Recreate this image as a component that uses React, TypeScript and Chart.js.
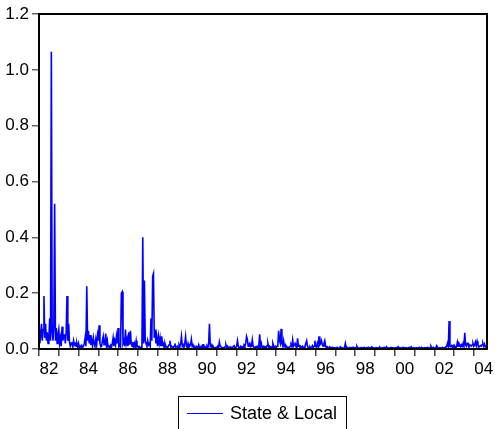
import React, { useEffect, useRef } from 'react';
import { Chart, registerables } from 'chart.js';

Chart.register(...registerables);

const seriesLabel = 'State & Local';
const startYear = 1982;
const periodsPerYear = 24;

// Semi-monthly values, Jan 1982 .. Aug 2004
const stateLocal: number[] = [
  // 1982
  0.07, 0.02, 0.05, 0.09, 0.03, 0.07, 0.19, 0.04, 0.09, 0.03, 0.06, 0.02,
  0.04, 0.11, 0.03, 1.065, 0.06, 0.03, 0.08, 0.52, 0.03, 0.075, 0.02, 0.05,
  // 1983
  0.07, 0.02, 0.04, 0.01, 0.08, 0.03, 0.05, 0.05, 0.02, 0.06, 0.19, 0.03,
  0.09, 0.025, 0.01, 0.02, 0.025, 0.008, 0.03, 0.015, 0.02, 0.01, 0.02, 0.006,
  // 1984
  0.02, 0.005, 0.01, 0.004, 0.012, 0.006, 0.01, 0.02, 0.04, 0.01, 0.225, 0.03,
  0.065, 0.02, 0.05, 0.015, 0.03, 0.01, 0.04, 0.02, 0.01, 0.035, 0.015, 0.05,
  // 1985
  0.03, 0.085, 0.02, 0.008, 0.01, 0.03, 0.045, 0.015, 0.02, 0.055, 0.01, 0.03,
  0.008, 0.01, 0.004, 0.013, 0.006, 0.02, 0.04, 0.01, 0.03, 0.015, 0.045, 0.02,
  // 1986
  0.075, 0.01, 0.015, 0.005, 0.2, 0.205, 0.02, 0.03, 0.01, 0.07, 0.02, 0.035,
  0.01, 0.06, 0.015, 0.065, 0.02, 0.01, 0.025, 0.005, 0.02, 0.01, 0.03, 0.008,
  // 1987
  0.01, 0.004, 0.008, 0.003, 0.006, 0.005, 0.4, 0.02, 0.245, 0.03, 0.02, 0.01,
  0.03, 0.015, 0.02, 0.01, 0.11, 0.03, 0.26, 0.27, 0.04, 0.07, 0.02, 0.04,
  // 1988
  0.01, 0.045, 0.02, 0.04, 0.01, 0.045, 0.015, 0.02, 0.005, 0.02, 0.01, 0.008,
  0.004, 0.01, 0.015, 0.03, 0.008, 0.01, 0.004, 0.006, 0.01, 0.02, 0.005, 0.008,
  // 1989
  0.01, 0.004, 0.015, 0.008, 0.02, 0.045, 0.01, 0.015, 0.005, 0.02, 0.045, 0.01,
  0.006, 0.02, 0.008, 0.01, 0.015, 0.035, 0.01, 0.015, 0.004, 0.006, 0.003, 0.01,
  // 1990
  0.008, 0.003, 0.015, 0.005, 0.005, 0.01, 0.004, 0.015, 0.015, 0.006, 0.008, 0.003,
  0.01, 0.004, 0.02, 0.09, 0.01, 0.015, 0.005, 0.012, 0.004, 0.005, 0.003, 0.006,
  // 1991
  0.005, 0.01, 0.004, 0.025, 0.01, 0.008, 0.004, 0.005, 0.003, 0.006, 0.008, 0.015,
  0.005, 0.01, 0.004, 0.005, 0.008, 0.003, 0.006, 0.004, 0.01, 0.012, 0.004, 0.005,
  // 1992
  0.01, 0.03, 0.01, 0.005, 0.004, 0.01, 0.006, 0.008, 0.004, 0.015, 0.01, 0.02,
  0.045, 0.035, 0.01, 0.015, 0.02, 0.008, 0.01, 0.033, 0.01, 0.006, 0.004, 0.008,
  // 1993
  0.006, 0.01, 0.004, 0.015, 0.053, 0.008, 0.02, 0.005, 0.004, 0.01, 0.006, 0.008,
  0.004, 0.012, 0.02, 0.006, 0.01, 0.004, 0.008, 0.006, 0.02, 0.01, 0.005, 0.01,
  // 1994
  0.005, 0.01, 0.015, 0.065, 0.03, 0.02, 0.072, 0.02, 0.01, 0.03, 0.01, 0.015,
  0.005, 0.008, 0.004, 0.006, 0.005, 0.01, 0.015, 0.008, 0.033, 0.01, 0.015, 0.02,
  // 1995
  0.01, 0.005, 0.038, 0.01, 0.012, 0.005, 0.008, 0.004, 0.01, 0.006, 0.005, 0.01,
  0.02, 0.03, 0.01, 0.005, 0.004, 0.008, 0.004, 0.005, 0.012, 0.006, 0.01, 0.03,
  // 1996
  0.01, 0.005, 0.02, 0.01, 0.045, 0.015, 0.02, 0.03, 0.015, 0.01, 0.02, 0.03,
  0.01, 0.005, 0.008, 0.004, 0.005, 0.008, 0.003, 0.004, 0.006, 0.003, 0.005, 0.004,
  // 1997
  0.004, 0.003, 0.006, 0.004, 0.003, 0.005, 0.008, 0.004, 0.005, 0.003, 0.004, 0.006,
  0.02, 0.005, 0.006, 0.003, 0.003, 0.005, 0.005, 0.004, 0.004, 0.006, 0.006, 0.003,
  // 1998
  0.005, 0.003, 0.01, 0.004, 0.004, 0.003, 0.003, 0.005, 0.005, 0.004, 0.004, 0.006,
  0.003, 0.004, 0.005, 0.003, 0.006, 0.004, 0.004, 0.005, 0.008, 0.003, 0.004, 0.005,
  // 1999
  0.003, 0.004, 0.005, 0.003, 0.004, 0.005, 0.006, 0.003, 0.003, 0.004, 0.004, 0.006,
  0.005, 0.003, 0.008, 0.004, 0.004, 0.003, 0.003, 0.005, 0.005, 0.004, 0.004, 0.003,
  // 2000
  0.004, 0.003, 0.005, 0.004, 0.008, 0.003, 0.004, 0.005, 0.003, 0.004, 0.006, 0.003,
  0.005, 0.004, 0.004, 0.003, 0.003, 0.005, 0.006, 0.004, 0.008, 0.003, 0.004, 0.005,
  // 2001
  0.003, 0.004, 0.005, 0.003, 0.004, 0.005, 0.006, 0.003, 0.004, 0.005, 0.003, 0.004,
  0.005, 0.003, 0.004, 0.005, 0.006, 0.004, 0.005, 0.003, 0.01, 0.004, 0.004, 0.006,
  // 2002
  0.004, 0.003, 0.006, 0.012, 0.005, 0.004, 0.003, 0.005, 0.004, 0.003, 0.006, 0.004,
  0.003, 0.005, 0.008, 0.01, 0.02, 0.008, 0.1, 0.01, 0.008, 0.012, 0.005, 0.012,
  // 2003
  0.006, 0.01, 0.005, 0.008, 0.025, 0.01, 0.02, 0.015, 0.008, 0.015, 0.01, 0.02,
  0.01, 0.058, 0.015, 0.01, 0.02, 0.02, 0.008, 0.015, 0.012, 0.01, 0.015, 0.02,
  // 2004
  0.01, 0.015, 0.025, 0.012, 0.028, 0.015, 0.01, 0.008, 0.012, 0.01, 0.015, 0.02,
  0.01, 0.018, 0.008, 0.012,
];

const yTickValues = [0, 0.2, 0.4, 0.6, 0.8, 1.0, 1.2];
const xTickYears = [
  1982, 1983, 1984, 1985, 1986, 1987, 1988, 1989, 1990, 1991, 1992, 1993,
  1994, 1995, 1996, 1997, 1998, 1999, 2000, 2001, 2002, 2003, 2004,
];

const FONT = "'Liberation Sans', Arial, Helvetica, sans-serif";

const framePlugin = {
  id: 'frame',
  afterDraw(chart: any) {
    const { ctx, chartArea } = chart;
    ctx.save();
    ctx.strokeStyle = '#000';
    ctx.lineWidth = 2;
    ctx.strokeRect(chartArea.left, chartArea.top, chartArea.right - chartArea.left, chartArea.bottom - chartArea.top);
    ctx.restore();
  },
};

const legendPlugin = {
  id: 'evLegend',
  afterDraw(chart: any) {
    const { ctx } = chart;
    ctx.save();
    ctx.strokeStyle = '#000';
    ctx.lineWidth = 1;
    ctx.strokeRect(178.5, 396.5, 168, 40);
    ctx.strokeStyle = '#0000ff';
    ctx.beginPath();
    ctx.moveTo(187, 413.5);
    ctx.lineTo(223, 413.5);
    ctx.stroke();
    ctx.fillStyle = '#000';
    ctx.font = `18px ${FONT}`;
    ctx.textBaseline = 'middle';
    ctx.textAlign = 'left';
    ctx.fillText(seriesLabel, 230, 414);
    ctx.restore();
  },
};

export default function App() {
  const ref = useRef<HTMLCanvasElement>(null);
  useEffect(() => {
    const points = stateLocal.map((v, i) => ({ x: startYear + i / periodsPerYear, y: v }));
    const chart = new Chart(ref.current as HTMLCanvasElement, {
      type: 'line',
      data: {
        datasets: [
          {
            label: seriesLabel,
            data: points,
            borderColor: '#0000ff',
            borderWidth: 1.6,
            pointRadius: 0,
            fill: false,
            tension: 0,
          },
        ],
      },
      options: {
        responsive: false,
        animation: false,
        layout: { padding: { top: 14, right: 8, left: 0, bottom: 0 } },
        plugins: { legend: { display: false }, tooltip: { enabled: false } },
        scales: {
          x: {
            type: 'linear',
            min: startYear,
            max: startYear + stateLocal.length / periodsPerYear,
            afterBuildTicks: (s: any) => {
              s.ticks = xTickYears.map((v) => ({ value: v }));
            },
            afterFit: (s: any) => {
              s.height = 80;
            },
            grid: { drawOnChartArea: false, drawTicks: true, tickLength: 7, color: '#444', lineWidth: 1.5 },
            border: { display: false },
            ticks: {
              autoSkip: false,
              maxRotation: 0,
              minRotation: 0,
              labelOffset: 9.9,
              padding: 3,
              color: '#000',
              font: { family: FONT, size: 17 },
              callback: (v: any) => (Number(v) % 2 === 0 ? String(v).slice(2) : ''),
            },
          },
          y: {
            min: 0,
            max: 1.2,
            afterBuildTicks: (s: any) => {
              s.ticks = yTickValues.map((v) => ({ value: v }));
            },
            afterFit: (s: any) => {
              s.width = 39;
            },
            grid: { drawOnChartArea: false, drawTicks: true, tickLength: 7, color: '#666', lineWidth: 1.5 },
            border: { display: false },
            ticks: {
              padding: 3,
              color: '#000',
              font: { family: FONT, size: 17 },
              callback: (v: any) => Number(v).toFixed(1),
            },
          },
        },
      },
      plugins: [framePlugin, legendPlugin],
    });
    return () => chart.destroy();
  }, []);
  return (
    <div style={{ position: 'fixed', left: 0, top: 0, width: 495, height: 429, background: '#fff' }}>
      <canvas ref={ref} width={495} height={429} style={{ display: 'block', width: 495, height: 429 }} />
    </div>
  );
}
